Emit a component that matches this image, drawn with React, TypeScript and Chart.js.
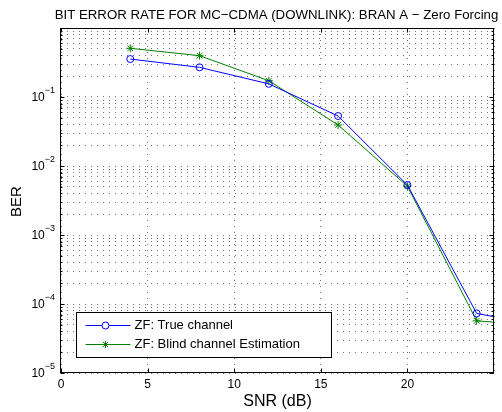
import React, { useEffect, useRef } from 'react';
import { Chart, registerables } from 'chart.js';

Chart.register(...registerables);

// ---- data ----
const snrDb = [4, 8, 12, 16, 20, 24, 28];
const berTrueChannel = [0.355, 0.269, 0.155, 0.053, 0.0053, 7.3e-5, 4.7e-5];
const berBlindChannel = [0.508, 0.397, 0.172, 0.0393, 0.0051, 5.7e-5, 4.8e-5];
const seriesLabels = ['ZF: True channel', 'ZF: Blind channel Estimation'];
const xTickLabels = [0, 5, 10, 15, 20];
const yDecadeExponents = [-5, -4, -3, -2, -1];
const minorMultipliers = [1, 2, 3, 4, 5, 6, 7, 8, 9];
const titleText = 'BIT ERROR RATE FOR MC\u2212CDMA (DOWNLINK): BRAN A \u2212 Zero Forcing';
const xAxisTitle = 'SNR (dB)';
const yAxisTitle = 'BER';

const yGridValues: number[] = [];
yDecadeExponents.forEach((d) => minorMultipliers.forEach((m) => yGridValues.push(m * Math.pow(10, d))));
yGridValues.push(1);

const FONT = 'Arial, "Liberation Sans", Helvetica, sans-serif';
const BLUE = '#0000ff';
const GREEN = '#008000';

function drawStar(ctx: CanvasRenderingContext2D, x: number, y: number, r: number) {
  ctx.beginPath();
  for (let k = 0; k < 4; k++) {
    const ang = (k * Math.PI) / 4;
    ctx.moveTo(x - r * Math.cos(ang), y - r * Math.sin(ang));
    ctx.lineTo(x + r * Math.cos(ang), y + r * Math.sin(ang));
  }
  ctx.stroke();
}

const matlabDecor = {
  id: 'matlabDecor',
  afterDraw(chart: any) {
    const { ctx, chartArea: a, scales } = chart;
    const xs = scales.x;
    const ys = scales.y;
    ctx.save();

    // frame
    const L = Math.round(a.left) - 0.5;
    const R = Math.round(a.right) - 0.5;
    const T = Math.round(a.top) + 0.5;
    const B = Math.round(a.bottom) - 0.5;
    ctx.strokeStyle = '#000';
    ctx.lineWidth = 1;
    ctx.setLineDash([]);
    ctx.strokeRect(L, T, R - L, B - T);

    // x ticks (inward, top & bottom)
    ctx.beginPath();
    xTickLabels.forEach((v) => {
      const px = Math.round(xs.getPixelForValue(v)) + 0.5;
      ctx.moveTo(px, B);
      ctx.lineTo(px, B - 4);
      ctx.moveTo(px, T);
      ctx.lineTo(px, T + 4);
    });
    // y ticks (major & minor)
    yGridValues.forEach((v, i) => {
      const py = Math.round(ys.getPixelForValue(v)) + 0.5;
      const len = i % 9 === 0 ? 4 : 2;
      ctx.moveTo(L, py);
      ctx.lineTo(L + len, py);
      ctx.moveTo(R, py);
      ctx.lineTo(R - len, py);
    });
    ctx.stroke();

    ctx.fillStyle = '#000';
    // x tick labels
    ctx.font = `12px ${FONT}`;
    ctx.textAlign = 'center';
    ctx.textBaseline = 'middle';
    xTickLabels.forEach((v) => {
      ctx.fillText(String(v), xs.getPixelForValue(v), a.bottom + 12);
    });

    // y tick labels 10^d
    yDecadeExponents.forEach((d) => {
      const py = ys.getPixelForValue(Math.pow(10, d));
      const expStr = '\u2212' + Math.abs(d);
      ctx.font = `9px ${FONT}`;
      const expW = ctx.measureText(expStr).width;
      const baseRight = a.left - 6 - expW;
      ctx.textAlign = 'left';
      ctx.textBaseline = 'middle';
      ctx.fillText(expStr, baseRight, py - 6);
      ctx.font = `12px ${FONT}`;
      ctx.textAlign = 'right';
      ctx.fillText('10', baseRight, py + 1);
    });

    // titles
    ctx.font = `13.25px ${FONT}`;
    ctx.textAlign = 'center';
    ctx.textBaseline = 'middle';
    ctx.fillText(titleText, (a.left + a.right) / 2 - 1, 15);
    ctx.font = `16px ${FONT}`;
    ctx.fillText(xAxisTitle, (a.left + a.right) / 2, a.bottom + 29);
    ctx.save();
    ctx.font = `15px ${FONT}`;
    ctx.translate(17, (a.top + a.bottom) / 2 + 1);
    ctx.rotate(-Math.PI / 2);
    ctx.fillText(yAxisTitle, 0, 0);
    ctx.restore();

    // legend box
    const lx = Math.round(a.left) + 15 + 0.5;
    const ly = Math.round(a.bottom) - 61 + 0.5;
    const lw = 255;
    const lh = 45;
    ctx.fillStyle = '#fff';
    ctx.fillRect(lx, ly, lw, lh);
    ctx.strokeStyle = '#000';
    ctx.lineWidth = 1;
    ctx.strokeRect(lx, ly, lw, lh);
    const rows = [
      { color: BLUE, label: seriesLabels[0], marker: 'circle', y: ly + 13 },
      { color: GREEN, label: seriesLabels[1], marker: 'star', y: ly + 32 },
    ];
    rows.forEach((r) => {
      ctx.strokeStyle = r.color;
      ctx.lineWidth = 1;
      ctx.beginPath();
      ctx.moveTo(lx + 9, r.y);
      ctx.lineTo(lx + 54, r.y);
      ctx.stroke();
      const mx = lx + 29;
      if (r.marker === 'circle') {
        ctx.fillStyle = '#fff';
        ctx.beginPath();
        ctx.arc(mx, r.y, 3.5, 0, Math.PI * 2);
        ctx.fill();
        ctx.stroke();
      } else {
        drawStar(ctx, mx, r.y, 3.5);
      }
      ctx.fillStyle = '#000';
      ctx.font = `13px ${FONT}`;
      ctx.textAlign = 'left';
      ctx.textBaseline = 'middle';
      ctx.fillText(r.label, lx + 58, r.y);
    });

    ctx.restore();
  },
};

export default function App() {
  const canvasRef = useRef<HTMLCanvasElement | null>(null);

  useEffect(() => {
    if (!canvasRef.current) return;
    const gridColor = 'rgba(0,0,0,0.55)';
    const chart = new Chart(canvasRef.current, {
      type: 'line',
      data: {
        datasets: [
          {
            label: seriesLabels[0],
            data: snrDb.map((x, i) => ({ x, y: berTrueChannel[i] })),
            borderColor: BLUE,
            borderWidth: 1,
            pointStyle: 'circle',
            pointRadius: 3.5,
            pointBorderColor: BLUE,
            pointBackgroundColor: 'rgba(0,0,0,0)',
            pointBorderWidth: 1,
            tension: 0,
            fill: false,
          },
          {
            label: seriesLabels[1],
            data: snrDb.map((x, i) => ({ x, y: berBlindChannel[i] })),
            borderColor: GREEN,
            borderWidth: 1,
            pointStyle: 'star',
            pointRadius: 4,
            pointBorderColor: GREEN,
            pointBackgroundColor: GREEN,
            pointBorderWidth: 1,
            tension: 0,
            fill: false,
          },
        ],
      },
      options: {
        animation: false,
        responsive: false,
        maintainAspectRatio: false,
        events: [],
        layout: { padding: { left: 61, right: 8, top: 28, bottom: 39 } },
        plugins: {
          legend: { display: false },
          title: { display: false },
          tooltip: { enabled: false },
        },
        scales: {
          x: {
            type: 'linear',
            min: 0,
            max: 25,
            ticks: { display: false, stepSize: 5 },
            grid: { color: gridColor, lineWidth: 1, drawTicks: false },
            border: { display: false, dash: [1, 5] },
            afterFit: (s: any) => {
              s.height = 0;
            },
          },
          y: {
            type: 'logarithmic',
            min: 1e-5,
            max: 1,
            ticks: { display: false },
            afterBuildTicks: (s: any) => {
              s.ticks = yGridValues.map((v) => ({ value: v }));
            },
            grid: { color: gridColor, lineWidth: 1, drawTicks: false },
            border: { display: false, dash: [1, 5] },
            afterFit: (s: any) => {
              s.width = 0;
            },
          },
        },
      } as any,
      plugins: [matlabDecor],
    });
    return () => chart.destroy();
  }, []);

  return (
    <div style={{ position: 'absolute', left: 0, top: 0, width: 502, height: 412, background: '#fff' }}>
      <canvas ref={canvasRef} width={502} height={412} style={{ display: 'block', width: 502, height: 412 }} />
    </div>
  );
}
